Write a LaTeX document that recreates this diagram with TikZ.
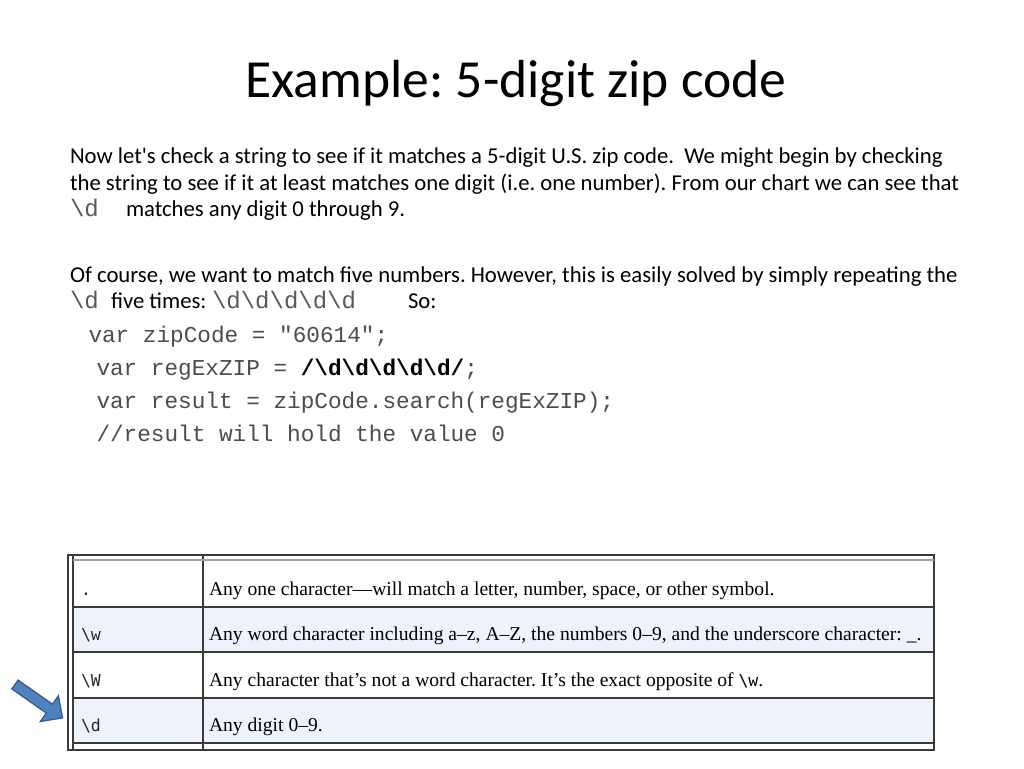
\documentclass[tikz,border=0pt]{standalone}
\usepackage{fontspec}
\setmainfont{Carlito}[Ligatures=TeXOff]
\newfontfamily\codefont{Liberation Mono}
\newfontfamily\tabfont{Liberation Serif}
\newfontfamily\tabcode{DejaVu Sans Mono}
\definecolor{arrowfill}{HTML}{4F81BD}
\definecolor{arrowline}{HTML}{385D8A}
\definecolor{rowblue}{HTML}{EEF3FB}
\definecolor{gridline}{HTML}{3A3A3A}
\definecolor{topgray}{HTML}{A0A0A0}
\newcommand{\bs}{\textbackslash}
\frenchspacing
\begin{document}
\begin{tikzpicture}[x=1pt,y=-1pt,
  txt/.style={anchor=base west,inner sep=0pt,outer sep=0pt,font=\fontsize{22.7}{27}\selectfont},
  code/.style={anchor=base west,inner sep=0pt,outer sep=0pt,font=\codefont\fontsize{22.7}{26}\selectfont,text=black!70},
  icode/.style={anchor=base west,inner sep=0pt,outer sep=0pt,font=\codefont\fontsize{24}{28}\selectfont,text=black!65},
  tdesc/.style={anchor=base west,inner sep=0pt,outer sep=0pt,font=\tabfont\fontsize{19.6}{23}\selectfont},
  tcode/.style={anchor=base west,inner sep=0pt,outer sep=0pt,font=\tabcode\fontsize{16.5}{20}\selectfont,text=black!85},
  grid/.style={draw=gridline,line width=1.2pt}]
\useasboundingbox[fill=white] (0,0) rectangle (1024,768);

% title
\node[anchor=base,inner sep=0pt,font=\fontsize{53.6}{62}\selectfont] (title) at (516,97) {Example: 5-digit zip code};

% paragraph 1
\node[txt] (p1a) at (70,163) {Now let's check a string to see if it matches a 5-digit U.S. zip code.\ \ We might begin by checking};
\node[txt] (p1b) at (70,190) {the string to see if it at least matches one digit (i.e. one number). From our chart we can see that};
\node[icode] (p1c) at (70,216) {\bs d};
\node[txt] (p1d) at (126,216) {matches any digit 0 through 9.};

% paragraph 2
\node[txt] (p2a) at (70,282) {Of course, we want to match five numbers. However, this is easily solved by simply repeating the};
\node[icode] (p2b) at (70,308) {\bs d};
\node[txt] (p2c) at (111,308) {five times:};
\node[icode] (p2d) at (212,308) {\bs d\bs d\bs d\bs d\bs d};
\node[txt] (p2e) at (408,308) {So:};

% code lines
\node[code] (c1) at (88.5,342) {var zipCode = "60614";};
\node[code] (c2) at (96.5,375) {var regExZIP = {\color{black}\textbf{/\bs d\bs d\bs d\bs d\bs d/}};};
\node[code] (c3) at (96.5,408) {var result = zipCode.search(regExZIP);};
\node[code] (c4) at (96.5,441) {//result will hold the value 0};

% table
\fill[rowblue] (73,607) rectangle (934,652);
\fill[rowblue] (73,698) rectangle (934,743);
\draw[grid] (68,555) rectangle (934,750);
\draw[grid] (73,555) -- (73,750);
\draw[grid] (203,555) -- (203,750);
\draw[draw=topgray,line width=2pt] (73,560) -- (934,560);
\foreach \yy in {607,652,698,743} \draw[grid] (73,\yy) -- (934,\yy);

\node[tcode] (r1c) at (81,595) {.};
\node[tdesc] (r1d) at (209,595) {Any one character—will match a letter, number, space, or other symbol.};
\node[tcode] (r2c) at (81,640) {\bs w};
\node[tdesc] (r2d) at (209,640) {Any word character including a–z, A–Z, the numbers 0–9, and the underscore character: \_.};
\node[tcode] (r3c) at (81,686) {\bs W};
\node[tdesc] (r3d) at (209,686) {Any character that’s not a word character. It’s the exact opposite of {\tabcode\fontsize{16.5}{20}\selectfont\bs w}.};
\node[tcode] (r4c) at (81,731) {\bs d};
\node[tdesc] (r4d) at (209,731) {Any digit 0–9.};

% block arrow
\draw[fill=arrowfill,draw=arrowline,line width=1.3pt,line join=miter]
  (18.1,680.1) -- (52.5,704.2) -- (58.4,695.8) -- (62.5,717.85) -- (40.4,721.5) -- (46.3,713.1) -- (11.9,688.9) -- cycle;
\end{tikzpicture}
\end{document}
